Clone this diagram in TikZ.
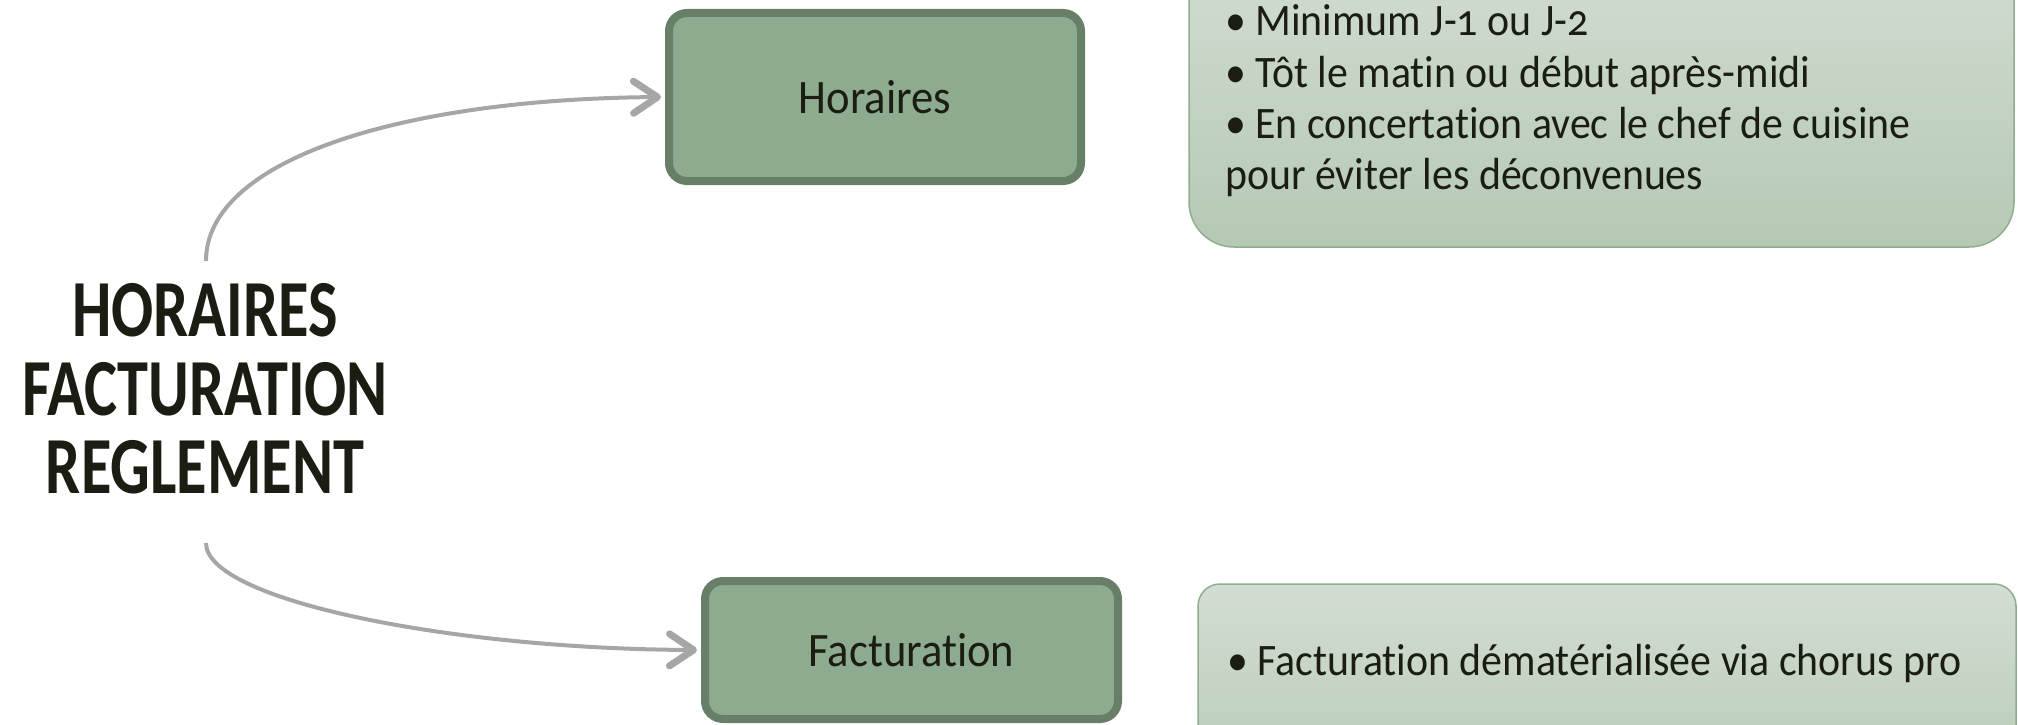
\documentclass[tikz,border=0pt]{standalone}
\usepackage{fontspec}
\setmainfont[Numbers=OldStyle, Ligatures=NoCommon, FakeStretch=0.93]{Carlito}
\newfontfamily\titlefont[FakeStretch=0.77, Ligatures=NoCommon]{Carlito}
\usetikzlibrary{arrows.meta}
\definecolor{boxfill}{HTML}{8DAB8E}
\definecolor{boxline}{HTML}{677E67}
\definecolor{txt}{HTML}{1B1C12}
\definecolor{arrowgray}{HTML}{A6A6A6}
\definecolor{paletop}{HTML}{D3DDD3}
\definecolor{palebot}{HTML}{B5C9B4}
\definecolor{paleline}{HTML}{8FAE8F}
\begin{document}
\begin{tikzpicture}[x=1pt,y=-1pt,
  keybox/.style={draw=boxline, line width=8pt, fill=boxfill, rounded corners=18pt, inner sep=0pt, text=txt, font=\fontsize{48}{52}\selectfont},
  detailbox/.style={draw=paleline, line width=1.5pt, top color=paletop, bottom color=palebot, inner sep=0pt},
  detailtext/.style={anchor=base west, inner sep=0pt, align=left, text=txt, font=\fontsize{45}{51.2}\selectfont},
  conn/.style={draw=arrowgray, line width=4pt, shorten >=4pt, -{Straight Barb[length=24pt, width=32pt, line width=7pt, round]}}]
\path[use as bounding box] (0,0) rectangle (2018,725);
\begin{scope}
\clip (0,0) rectangle (2018,725);
\node[detailbox, rounded corners=45pt, minimum width=825pt, minimum height=300pt] (d1) at (1601.5,97) {};
\node[detailbox, rounded corners=22pt, minimum width=818pt, minimum height=220pt] (d2) at (1607,694) {};
\node[detailtext] (t1) at (1225,189.5) {• Minimum J-1 ou J-2\\• Tôt le matin ou début après-midi\\• En concertation avec le chef de cuisine\\pour éviter les déconvenues};
\node[detailtext] (t2) at (1227,675) {• Facturation dématérialisée via chorus pro};
\node[keybox, minimum width=412pt, minimum height=168pt] (hor) at (875,97) {Horaires};
\node[keybox, minimum width=413pt, minimum height=138pt] (fac) at (911.5,650) {Facturation};
\node[text=txt, align=center, inner sep=0pt, font=\titlefont\bfseries\fontsize{81}{78.5}\selectfont] (title) at (205,389) {HORAIRES\\FACTURATION\\REGLEMENT};
\coordinate (s1) at (206,261);
\coordinate (s2) at (206,543);
\draw[conn] (s1) .. controls (206,160) and (400,99) .. (hor.west);
\draw[conn] (s2) .. controls (206,600) and (450,649) .. (fac.west);
\end{scope}
\end{tikzpicture}
\end{document}
